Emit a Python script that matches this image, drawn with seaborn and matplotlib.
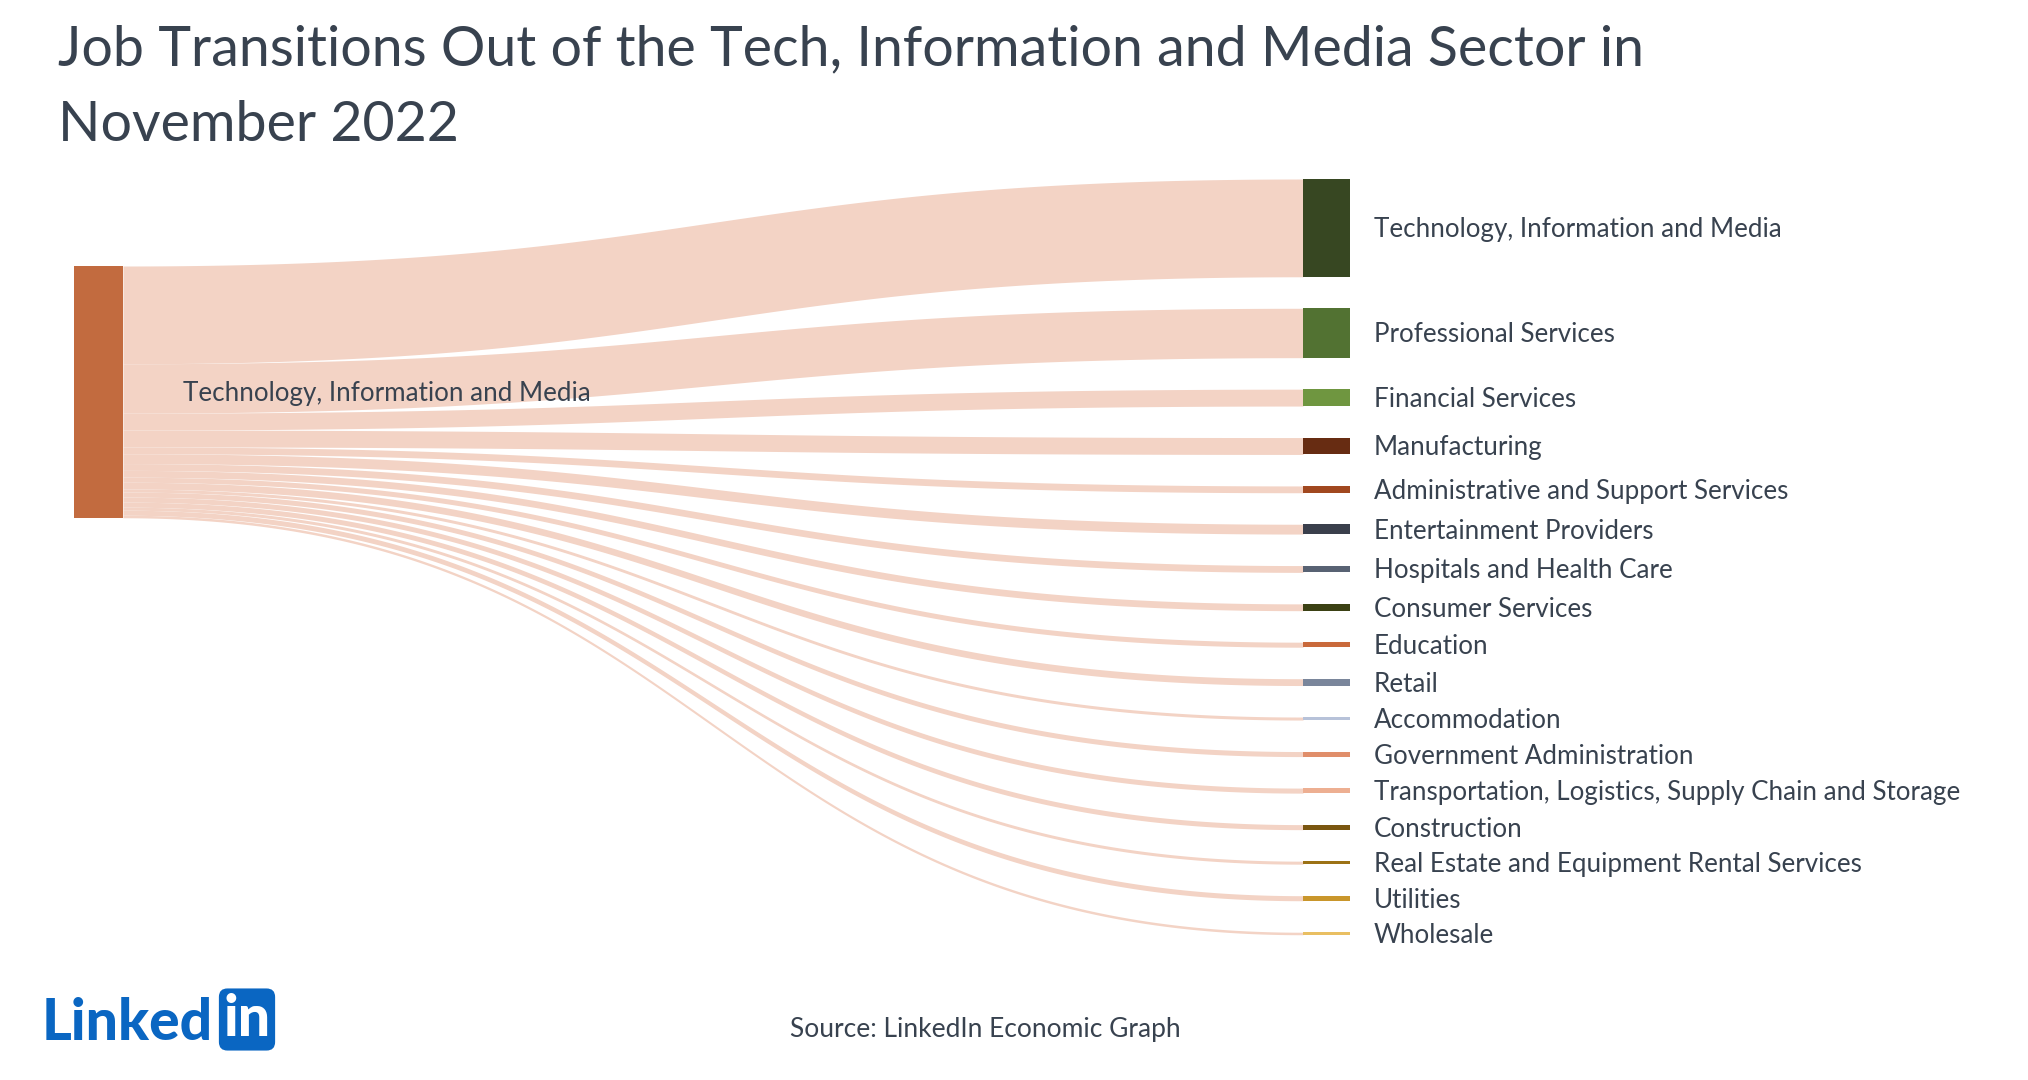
import numpy as np
import matplotlib.pyplot as plt
import seaborn as sns

# Share of transitions out of Tech, Information and Media (Nov 2022), % estimated from the graphic
source_sector = "Technology, Information and Media"
target_sectors = [
    "Technology, Information and Media",
    "Professional Services",
    "Financial Services",
    "Manufacturing",
    "Administrative and Support Services",
    "Entertainment Providers",
    "Hospitals and Health Care",
    "Consumer Services",
    "Education",
    "Retail",
    "Accommodation",
    "Government Administration",
    "Transportation, Logistics, Supply Chain and Storage",
    "Construction",
    "Real Estate and Equipment Rental Services",
    "Utilities",
    "Wholesale",
]
shares = [38.8, 19.6, 6.7, 6.7, 2.7, 3.9, 2.7, 2.7, 2.0, 2.7, 1.2, 2.0, 2.0, 2.0, 1.2, 2.0, 1.0]
target_colors = [
    "#374722", "#527232", "#6F9640", "#672C12", "#A1481F", "#3A3F4C",
    "#586273", "#3B4114", "#C9693B", "#7A869B", "#B7C2D9", "#E08E6A",
    "#EDAF92", "#7A5610", "#9C7215", "#C9962B", "#E9BF62",
]
source_color = "#C26B3F"
link_color = "#F3D3C5"
text_color = "#38424F"

sns.set_theme(style="white")
plt.rcParams["font.family"] = ["Lato", "DejaVu Sans"]

W, H = 2028, 1080
fig = plt.figure(figsize=(W / 100, H / 100), dpi=100)
ax = fig.add_axes([0, 0, 1, 1])
ax.set_xlim(0, W)
ax.set_ylim(H, 0)
ax.axis("off")

# layout (pixels)
px_per_pct = 2.52
gap = 31.5
left_top, right_top = 266, 179
src_x0, src_x1 = 74, 123
tgt_x0, tgt_x1 = 1303, 1350
label_fs = 18.7
cap_half = 9.5  # half cap height in px, to centre labels on nodes

shares = np.array(shares)
heights = shares * px_per_pct
src_offsets = left_top + np.concatenate([[0], np.cumsum(heights)[:-1]])
tgt_tops = right_top + np.concatenate([[0], np.cumsum(heights + gap)[:-1]])

# links: cubic bezier bands
t = np.linspace(0, 1, 300)
xm = (src_x1 + tgt_x0) / 2
b0, b1, b2, b3 = (1 - t) ** 3, 3 * (1 - t) ** 2 * t, 3 * (1 - t) * t ** 2, t ** 3
bx = b0 * src_x1 + (b1 + b2) * xm + b3 * tgt_x0


def band(y_src, y_tgt):
    return (b0 + b1) * y_src + (b2 + b3) * y_tgt


for s0, tt, h in zip(src_offsets, tgt_tops, heights):
    ax.fill_between(bx, band(s0, tt), band(s0 + h, tt + h), color=link_color, lw=0)

# nodes
ax.bar(src_x0, heights.sum(), width=src_x1 - src_x0, bottom=left_top, align="edge",
       color=source_color, lw=0)
ax.bar(np.full(len(heights), tgt_x0), heights, width=tgt_x1 - tgt_x0, bottom=tgt_tops,
       align="edge", color=target_colors, lw=0)

# labels
ax.text(183, left_top + heights.sum() / 2 + cap_half, source_sector, fontsize=label_fs,
        color=text_color, va="baseline", ha="left")
for name, top, h in zip(target_sectors, tgt_tops, heights):
    ax.text(1374, top + h / 2 + cap_half, name, fontsize=label_fs, color=text_color,
            va="baseline", ha="left")

# title, source, logo
fig.text(58 / W, 1 - 24 / H, "Job Transitions Out of the Tech, Information and Media Sector in\nNovember 2022",
         fontsize=40, color=text_color, va="top", ha="left", linespacing=1.6)
fig.text(985 / W, 1 - 1030 / H, "Source: LinkedIn Economic Graph", fontsize=19,
         color=text_color, ha="center", va="center")
fig.text(42 / W, 1 - 1040 / H, "Linked", fontsize=41, fontweight="black", color="#0A66C2",
         ha="left", va="baseline")
fig.text(247 / W, 1 - 1036 / H, "in", fontsize=41, fontweight="black", color="white",
         ha="center", va="baseline",
         bbox=dict(boxstyle="round,pad=0.08,rounding_size=0.15", fc="#0A66C2", ec="none"))

fig.savefig("out.png", dpi=100, facecolor="white")
